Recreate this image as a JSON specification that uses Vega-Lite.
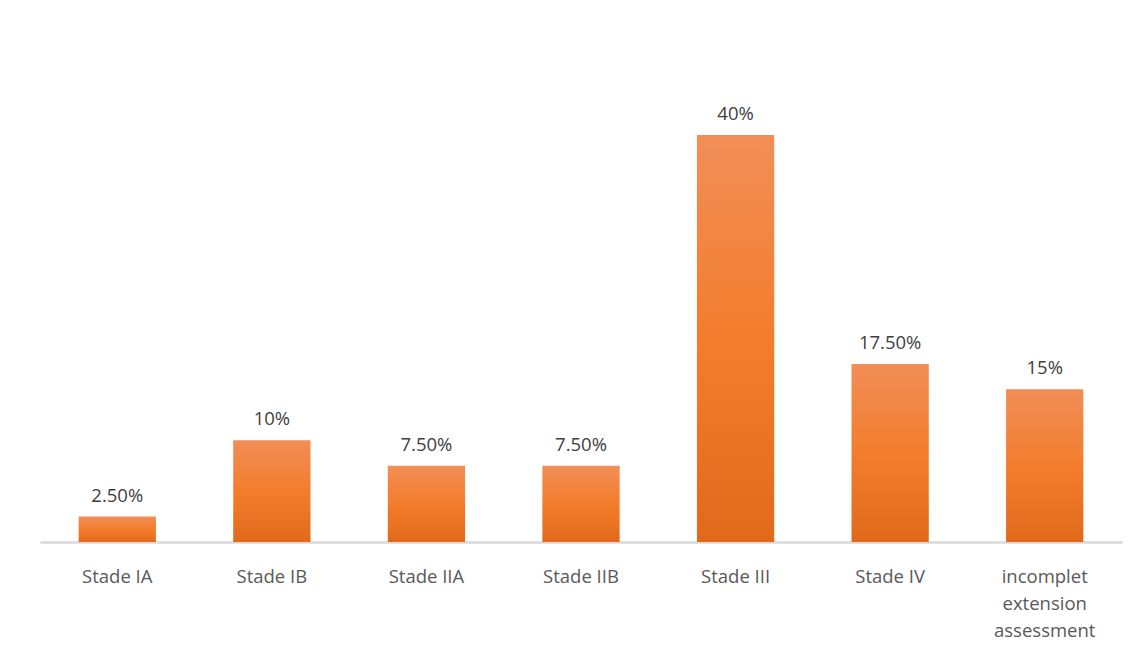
{
  "$schema": "https://vega.github.io/schema/vega-lite/v6.json",
  "width": 1082,
  "height": 458,
  "autosize": "none",
  "padding": {"left": 40, "top": 84, "right": 18, "bottom": 129},
  "background": "white",
  "config": {"view": {"stroke": null}, "font": "Open Sans"},
  "data": {
    "values": [
      {"stage": "Stade IA", "pct": 0.025, "label": "2.50%"},
      {"stage": "Stade IB", "pct": 0.10, "label": "10%"},
      {"stage": "Stade IIA", "pct": 0.075, "label": "7.50%"},
      {"stage": "Stade IIB", "pct": 0.075, "label": "7.50%"},
      {"stage": "Stade III", "pct": 0.40, "label": "40%"},
      {"stage": "Stade IV", "pct": 0.175, "label": "17.50%"},
      {"stage": "incomplet extension assessment", "pct": 0.15, "label": "15%"}
    ]
  },
  "encoding": {
    "x": {
      "field": "stage", "type": "nominal", "sort": null,
      "scale": {"paddingInner": 0.5, "paddingOuter": 0.25},
      "axis": {
        "title": null, "labelAngle": 0, "ticks": false,
        "domainColor": "#D9D9D9", "domainWidth": 2.5,
        "labelFontSize": 18.5, "labelColor": "#595959", "labelFont": "Open Sans",
        "labelPadding": 25, "labelBaseline": "top", "labelLineHeight": 27,
        "labelExpr": "datum.label == 'incomplet extension assessment' ? ['incomplet','extension','assessment'] : datum.label"
      }
    },
    "y": {
      "field": "pct", "type": "quantitative",
      "scale": {"domain": [0, 0.45]},
      "axis": null
    }
  },
  "layer": [
    {
      "mark": {
        "type": "bar",
        "color": {
          "gradient": "linear", "x1": 0, "y1": 0, "x2": 0, "y2": 1,
          "stops": [
            {"offset": 0, "color": "#F18E57"},
            {"offset": 0.5, "color": "#F37D2D"},
            {"offset": 1, "color": "#E1691B"}
          ]
        }
      }
    },
    {
      "mark": {"type": "text", "baseline": "bottom", "dy": -11, "fontSize": 18.5, "color": "#404040", "font": "Open Sans"},
      "encoding": {"text": {"field": "label"}}
    }
  ]
}
